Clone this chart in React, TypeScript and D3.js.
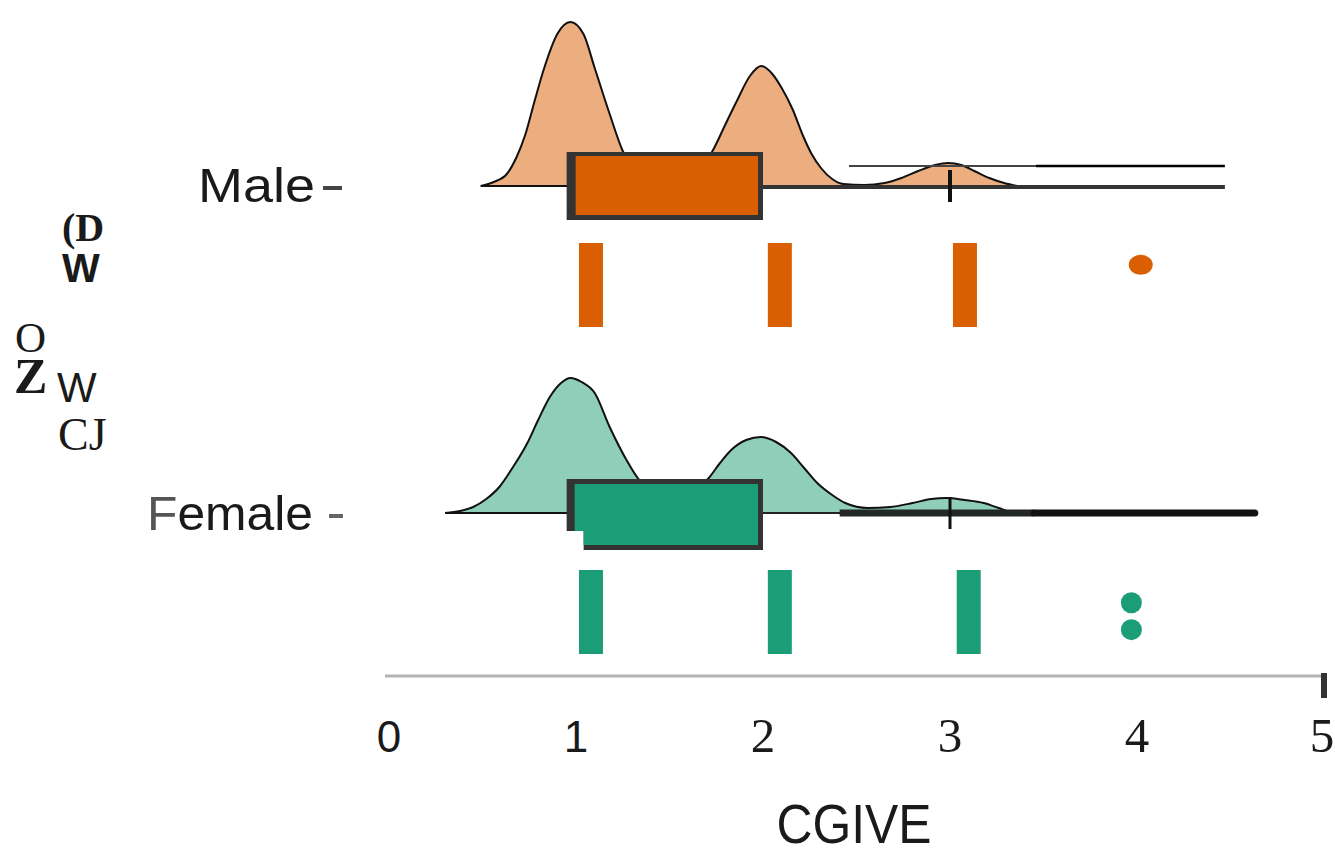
import React from "react";
import * as d3 from "d3";

// ---------- data ----------
const categories = ["Male", "Female"];
const xTicks = [0, 1, 2, 3, 4, 5];
const xTitle = "CGIVE";
const yTitleGlyphs = ["(D", "W", "O", "Z", "W", "CJ"];

// density curves: [value, density]
const maleDensity: [number, number][] = [
  [0.49, 0], [0.56, 0.04], [0.63, 0.12], [0.68, 0.28], [0.73, 0.52], [0.78, 0.86],
  [0.83, 1.18], [0.9, 1.52], [0.97, 1.64], [1.04, 1.52], [1.1, 1.18], [1.18, 0.72],
  [1.25, 0.35], [1.32, 0.14], [1.4, 0.05], [1.5, 0.03], [1.6, 0.06], [1.66, 0.16],
  [1.73, 0.35], [1.8, 0.62], [1.86, 0.85], [1.93, 1.1], [1.99, 1.2], [2.05, 1.12],
  [2.1, 0.98], [2.16, 0.76], [2.21, 0.52], [2.26, 0.32], [2.31, 0.18], [2.37, 0.07],
  [2.43, 0.02], [2.54, 0.01], [2.65, 0.03], [2.74, 0.08], [2.83, 0.15], [2.92, 0.21],
  [2.99, 0.23], [3.06, 0.21], [3.13, 0.15], [3.21, 0.08], [3.29, 0.03], [3.36, 0],
];
const femaleDensity: [number, number][] = [
  [0.3, 0], [0.38, 0.02], [0.45, 0.06], [0.52, 0.14], [0.59, 0.26], [0.66, 0.45],
  [0.74, 0.7], [0.8, 0.94], [0.86, 1.16], [0.92, 1.3], [0.97, 1.35], [1.03, 1.31],
  [1.1, 1.2], [1.18, 0.86], [1.27, 0.53], [1.33, 0.35], [1.42, 0.2], [1.52, 0.15],
  [1.62, 0.2], [1.71, 0.35], [1.77, 0.5], [1.83, 0.63], [1.91, 0.73], [1.99, 0.76],
  [2.07, 0.71], [2.15, 0.6], [2.22, 0.45], [2.29, 0.3], [2.37, 0.18], [2.44, 0.1],
  [2.56, 0.05], [2.68, 0.06], [2.8, 0.1], [2.9, 0.14], [2.98, 0.15], [3.08, 0.13],
  [3.18, 0.1], [3.26, 0.05], [3.32, 0.01], [3.36, 0],
];

// box stats
const boxQ1 = [0.95, 0.95];
const boxQ3 = [2.0, 2.0];
const whiskerHigh = [4.47, 4.63];
const thickWhiskerStart = [2.0, 2.41];
const whiskerShadeSplit = [3.46, 3.45];
const markerValue = [3.0, 3.0];
const upperLineRange: [number, number] = [2.46, 4.47];

// rain: stacked points forming bars, and outliers
const maleRain = [1.08, 2.09, 3.08];
const femaleRain = [1.08, 2.09, 3.1];
const maleOutliers = [4.02];
const femaleOutliers = [3.97, 3.97];
const maleOutlierJitter = [0.26];
const femaleOutlierJitter = [0.39, 0.71];

// ---------- styles ----------
const W = 1335;
const H = 854;
const fills = ["#ecae7e", "#8fcfb9"];
const dark = ["#d95f02", "#1b9e77"];
const baselines = [186, 513];

export default function App() {
  const x = d3.scaleLinear().domain([0, 5]).range([389, 1324]);
  const dy = d3.scaleLinear().domain([0, 1]).range([0, 100]);
  const densities = [maleDensity, femaleDensity];
  const rains = [maleRain, femaleRain];
  const outliers = [maleOutliers, femaleOutliers];
  const jitters = [maleOutlierJitter, femaleOutlierJitter];

  const axisY = 676;
  const tickBase = 752;

  return (
    <svg
      width={W}
      height={H}
      style={{ position: "absolute", left: 0, top: 0, background: "#fff" }}
    >
      <rect x={0} y={0} width={W} height={H} fill="#fff" />

      {/* garbled y-axis title, one text with positioned pieces */}
      <text fill="#1a1a1a">
        <tspan x={62} y={241} fontFamily="Liberation Serif" fontWeight="bold" fontSize={40}>{yTitleGlyphs[0]}</tspan>
        <tspan x={62} y={282} fontFamily="Liberation Sans" fontWeight="bold" fontSize={40}>{yTitleGlyphs[1]}</tspan>
        <tspan x={15} y={352} fontFamily="Liberation Serif" fontSize={43}>{yTitleGlyphs[2]}</tspan>
        <tspan x={14} y={393} fontFamily="Liberation Serif" fontWeight="bold" fontSize={50}>{yTitleGlyphs[3]}</tspan>
        <tspan x={57} y={402} fontFamily="Liberation Sans" fontSize={42}>{yTitleGlyphs[4]}</tspan>
        <tspan x={58} y={450} fontFamily="Liberation Serif" fontSize={46}>{yTitleGlyphs[5]}</tspan>
      </text>

      {/* category labels */}
      <text x={315} y={202} textAnchor="end" fontFamily="Liberation Sans" fontSize={48} fill="#1a1a1a" textLength={117} lengthAdjust="spacingAndGlyphs">{categories[0]}</text>
      <line x1={323} x2={342} y1={188} y2={188} stroke="#444" strokeWidth={4} />
      <text x={313} y={530} textAnchor="end" fontFamily="Liberation Sans" fontSize={48} fill="#1a1a1a" textLength={166} lengthAdjust="spacingAndGlyphs">
        <tspan fill="#555">{categories[1].slice(0, 1)}</tspan>{categories[1].slice(1)}
      </text>
      <line x1={329} x2={343} y1={516} y2={516} stroke="#666" strokeWidth={4} />

      {categories.map((c, i) => {
        const b = baselines[i];
        const area = d3
          .area<[number, number]>()
          .x((d) => x(d[0]))
          .y0(b)
          .y1((d) => b - dy(d[1]))
          .curve(d3.curveMonotoneX);
        const bx1 = x(boxQ1[i]);
        const bx2 = x(boxQ3[i]);
        const top = b - 34;
        const bottom = b + (i === 0 ? 34 : 37);
        return (
          <g key={c}>
            <path d={area(densities[i]) || ""} fill={fills[i]} stroke="#111" strokeWidth={2} />
            {/* whiskers */}
            {i === 0 ? (
              <line x1={bx2} x2={x(whiskerHigh[i])} y1={b + 1} y2={b + 1} stroke="#333" strokeWidth={4} />
            ) : (
              <g>
                <line x1={bx2} x2={x(thickWhiskerStart[i])} y1={b} y2={b} stroke="#222" strokeWidth={2} />
                <line x1={x(thickWhiskerStart[i])} x2={x(whiskerShadeSplit[i])} y1={b} y2={b} stroke="#232827" strokeWidth={7} />
                <line x1={x(whiskerShadeSplit[i])} x2={x(whiskerHigh[i])} y1={b} y2={b} stroke="#111" strokeWidth={7} strokeLinecap="round" />
              </g>
            )}
            {/* box */}
            {i === 0 ? (
              <g>
                <rect x={bx1} y={top} width={bx2 - bx1} height={bottom - top} fill="#333" />
                <rect x={bx1 + 9} y={top + 4} width={bx2 - bx1 - 14} height={bottom - top - 9} fill={dark[i]} />
              </g>
            ) : (
              <g>
                <path d={`M${bx1},${top} H${bx2} V${bottom} H${bx1 + 17} V${bottom - 19} H${bx1} Z`} fill="#333" />
                <path d={`M${bx1 + 8},${top + 5} H${bx2 - 5} V${bottom - 5} H${bx1 + 17} V${bottom - 19} H${bx1 + 8} Z`} fill={dark[i]} />
              </g>
            )}
            {/* marker tick */}
            <line x1={x(markerValue[i])} x2={x(markerValue[i])} y1={b - 16} y2={b + 16} stroke="#111" strokeWidth={i === 0 ? 4 : 3} />
            {/* rain bars */}
            {rains[i].map((v, k) => (
              <rect key={k} x={x(v) - 12} y={b + 57} width={24} height={84} fill={dark[i]} />
            ))}
            {outliers[i].map((v, k) => (
              <ellipse
                key={"o" + k}
                cx={x(v)}
                cy={b + 57 + 84 * jitters[i][k]}
                rx={i === 0 ? 12 : 10.5}
                ry={i === 0 ? 10 : 10.5}
                fill={dark[i]}
              />
            ))}
          </g>
        );
      })}

      {/* stray upper line over male cloud */}
      <line x1={x(upperLineRange[0])} x2={x(whiskerShadeSplit[0])} y1={166} y2={166} stroke="#444" strokeWidth={2} />
      <line x1={x(whiskerShadeSplit[0])} x2={x(upperLineRange[1])} y1={166} y2={166} stroke="#000" strokeWidth={2.5} />

      {/* x axis */}
      <line x1={x(0) - 4} x2={x(5)} y1={axisY} y2={axisY} stroke="#b3b3b3" strokeWidth={3} />
      <line x1={x(5)} x2={x(5)} y1={673} y2={698} stroke="#333" strokeWidth={6} />
      {xTicks.map((t, i) => (
        <text
          key={t}
          x={x(t) - (i === xTicks.length - 1 ? 2 : 0)}
          y={tickBase}
          textAnchor="middle"
          fontFamily={i < 2 ? "Liberation Sans" : "Liberation Serif"}
          fontSize={i < 2 ? 44 : 49}
          fill="#1a1a1a"
        >
          {t}
        </text>
      ))}
      <text x={854} y={843} textAnchor="middle" fontFamily="Liberation Sans" fontSize={56} fill="#1a1a1a" textLength={155} lengthAdjust="spacingAndGlyphs">
        {xTitle}
      </text>
    </svg>
  );
}
